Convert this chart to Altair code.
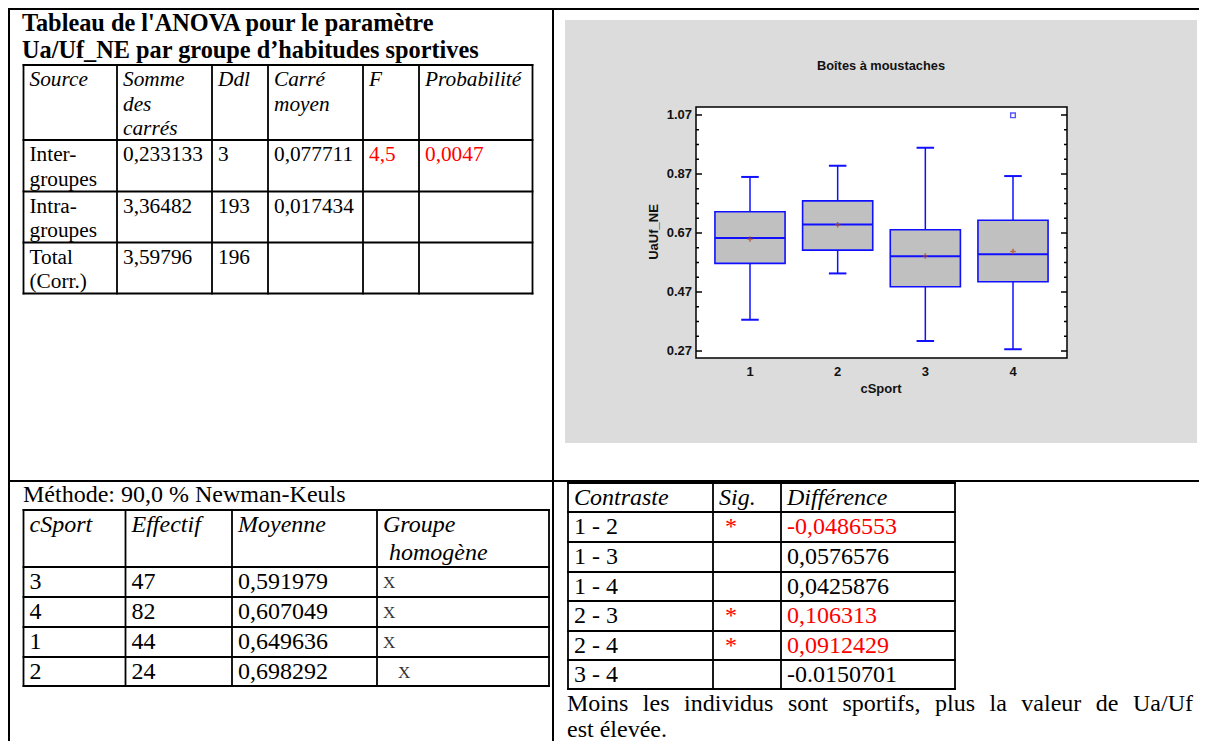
import altair as alt
import pandas as pd

# ---------------- data ----------------
title_lines = ["Tableau de l'ANOVA pour le paramètre",
               "Ua/Uf_NE par groupe d\u2019habitudes sportives"]

anova_header = ["Source", "Somme\ndes\ncarrés", "Ddl", "Carré\nmoyen", "F", "Probabilité"]
anova_source = ["Inter-\ngroupes", "Intra-\ngroupes", "Total\n(Corr.)"]
anova_ss = ["0,233133", "3,36482", "3,59796"]
anova_ddl = ["3", "193", "196"]
anova_ms = ["0,077711", "0,017434", ""]
anova_f = ["4,5", "", ""]
anova_p = ["0,0047", "", ""]
anova_red_cols = [4, 5]

method_label = "Méthode: 90,0 % Newman-Keuls"
nk_header = ["cSport", "Effectif", "Moyenne", "Groupe"]
nk_header2 = "homogène"
nk_group = ["3", "4", "1", "2"]
nk_count = ["47", "82", "44", "24"]
nk_mean = ["0,591979", "0,607049", "0,649636", "0,698292"]
nk_homog_slot = [0, 0, 0, 1]

contrast_header = ["Contraste", "Sig.", "Différence"]
contrast_pair = ["1 - 2", "1 - 3", "1 - 4", "2 - 3", "2 - 4", "3 - 4"]
contrast_sig = [True, False, False, True, True, False]
contrast_diff = ["-0,0486553", "0,0576576", "0,0425876", "0,106313", "0,0912429", "-0.0150701"]

conclusion = ["Moins les individus sont sportifs, plus la valeur de Ua/Uf", "est élevée."]

box_title = "Boîtes à moustaches"
box_xlabel = "cSport"
box_ylabel = "UaUf_NE"
box_groups = [1, 2, 3, 4]
box_low = [0.376, 0.533, 0.304, 0.276]
box_q1 = [0.567, 0.612, 0.488, 0.505]
box_median = [0.653, 0.699, 0.591, 0.598]
box_q3 = [0.742, 0.779, 0.681, 0.713]
box_high = [0.860, 0.898, 0.959, 0.863]
box_mean = [0.649636, 0.698292, 0.591979, 0.607049]
outlier_group = [4]
outlier_value = [1.069]
y_ticks = [0.27, 0.47, 0.67, 0.87, 1.07]
y_tick_labels = ["0.27", "0.47", "0.67", "0.87", "1.07"]
y_minor = [0.32, 0.37, 0.42, 0.52, 0.57, 0.62, 0.72, 0.77, 0.82, 0.92, 0.97, 1.02]

# ---------------- layout (page pixels) ----------------
W, H, OFF = 1191, 733, 8
SERIF = "Liberation Serif, Times New Roman, serif"
SANS = "Liberation Sans, Arial, sans-serif"
RED = "#ff0000"
BLUE = "#1010ff"

anova_cols = [23.5, 117, 212, 268, 363, 419, 532.5]
anova_rows = [65, 140, 191.5, 242.5, 293.5]
nk_cols = [23.5, 125.5, 232, 377, 549]
nk_rows = [510, 567, 597, 627, 657, 686]
ct_cols = [568, 713, 781, 955]
ct_rows = [483, 512, 542, 572, 601, 631, 660, 689]
PARA_LEFT, PARA_RIGHT = 567, 1193
PARA_BASE = [711, 737]

# Times New Roman advance widths (1/1000 em) for justification of the paragraph
TNR = {"M": 889, "o": 500, "i": 278, "n": 500, "s": 389, "l": 278, "e": 444, "d": 500,
       "v": 500, "u": 500, "t": 278, "p": 500, "r": 333, "f": 333, ",": 250, "a": 444,
       "U": 722, "/": 278, " ": 250}

BX = alt.Scale(domain=[0.384, 4.616], range=[688, 1059], nice=False, zero=False)
BY = alt.Scale(domain=[0.2463, 1.0971], range=[350, 99], nice=False, zero=False)


def PX(f):
    return alt.X(f, type="quantitative", axis=None,
                 scale=alt.Scale(domain=[OFF, OFF + W], range=[0, W], nice=False, zero=False))


def PY(f):
    return alt.Y(f, type="quantitative", axis=None,
                 scale=alt.Scale(domain=[OFF, OFF + H], range=[0, H], nice=False, zero=False))


def grid(cols, rows, w):
    s = [dict(x=c, x2=c, y=rows[0], y2=rows[-1], w=w) for c in cols]
    s += [dict(x=cols[0], x2=cols[-1], y=r, y2=r, w=w) for r in rows]
    return s


def text_layer(rows, size, font=SERIF, italic=False, bold=False, align="left", lh=None):
    mk = dict(align=align, baseline="alphabetic", font=font, fontSize=size, lineBreak="\n")
    if italic:
        mk["fontStyle"] = "italic"
    if bold:
        mk["fontWeight"] = "bold"
    if lh:
        mk["lineHeight"] = lh
    return alt.Chart(pd.DataFrame(rows)).mark_text(**mk).encode(
        x=PX("x"), y=PY("y"), text="t:N", color=alt.Color("c:N", scale=None))


layers = []

# gray panel behind the box plot
layers.append(alt.Chart(pd.DataFrame([dict(x=565, x2=1197, y=20, y2=443)])).mark_rect(
    fill="#dcdcdc").encode(x=PX("x"), x2="x2", y=PY("y"), y2="y2"))

# page frame lines and table grids
segs = [dict(x=9, x2=1199, y=9, y2=9, w=2), dict(x=9, x2=9, y=9, y2=741, w=2),
        dict(x=553, x2=553, y=9, y2=741, w=2), dict(x=9, x2=1199, y=481, y2=481, w=2)]
segs += grid(anova_cols, anova_rows, 1.8)
segs += grid(nk_cols, nk_rows, 1.8)
segs += grid(ct_cols, ct_rows, 1.8)
layers.append(alt.Chart(pd.DataFrame(segs)).mark_rule(color="black", strokeCap="square").encode(
    x=PX("x"), x2="x2", y=PY("y"), y2="y2", strokeWidth=alt.StrokeWidth("w:Q", scale=None)))

# title of ANOVA table
layers.append(text_layer([dict(x=22, y=31, t=title_lines[0], c="black"),
                          dict(x=22, y=58, t=title_lines[1], c="black")], 24.3, bold=True))

# ANOVA table
hdr = [dict(x=anova_cols[i] + 6, y=anova_rows[0] + 21, t=h, c="black") for i, h in enumerate(anova_header)]
layers.append(text_layer(hdr, 21.3, italic=True, lh=24.5))
cols_data = [anova_source, anova_ss, anova_ddl, anova_ms, anova_f, anova_p]
body = []
for ci, col in enumerate(cols_data):
    for ri, v in enumerate(col):
        if v:
            body.append(dict(x=anova_cols[ci] + 6, y=anova_rows[ri + 1] + 21, t=v,
                             c=RED if ci in anova_red_cols else "black"))
layers.append(text_layer(body, 21.3, lh=24.5))

# Newman-Keuls table
layers.append(text_layer([dict(x=23, y=502, t=method_label, c="black")], 24))
hdr = [dict(x=nk_cols[i] + 6, y=nk_rows[0] + 22, t=h, c="black") for i, h in enumerate(nk_header)]
hdr.append(dict(x=nk_cols[3] + 12, y=nk_rows[0] + 50, t=nk_header2, c="black"))
layers.append(text_layer(hdr, 24, italic=True))
body = []
for ci, col in enumerate([nk_group, nk_count, nk_mean]):
    for ri, v in enumerate(col):
        body.append(dict(x=nk_cols[ci] + 6, y=nk_rows[ri + 1] + 22, t=v, c="black"))
layers.append(text_layer(body, 24))
xs = [dict(x=nk_cols[3] + 6 + 15 * s, y=nk_rows[ri + 1] + 21, t="X", c="#333333")
      for ri, s in enumerate(nk_homog_slot)]
layers.append(text_layer(xs, 17))

# contrasts table
hdr = [dict(x=ct_cols[i] + 6, y=ct_rows[0] + 22, t=h, c="black") for i, h in enumerate(contrast_header)]
layers.append(text_layer(hdr, 24, italic=True))
body = []
for ri in range(len(contrast_pair)):
    yb = ct_rows[ri + 1] + 22
    body.append(dict(x=ct_cols[0] + 6, y=yb, t=contrast_pair[ri], c="black"))
    body.append(dict(x=ct_cols[2] + 6, y=yb, t=contrast_diff[ri], c=RED if contrast_sig[ri] else "black"))
layers.append(text_layer(body, 24))
stars = [dict(x=(ct_cols[1] + ct_cols[2]) / 2 - 16, y=ct_rows[ri + 1] + 22, t="*", c=RED)
         for ri in range(len(contrast_pair)) if contrast_sig[ri]]
layers.append(text_layer(stars, 24, align="center"))

# conclusion paragraph (first line justified, second line flush left)
FS = 24
words = conclusion[0].split(" ")
wid = [sum(TNR.get(ch, 500) for ch in w) / 1000 * FS for w in words]
gap = (PARA_RIGHT - PARA_LEFT - sum(wid)) / (len(words) - 1)
para = []
xcur = PARA_LEFT
for w, ww in zip(words, wid):
    para.append(dict(x=xcur, y=PARA_BASE[0], t=w, c="black"))
    xcur += ww + gap
para.append(dict(x=PARA_LEFT, y=PARA_BASE[1], t=conclusion[1], c="black"))
layers.append(text_layer(para, FS))

# ---------------- box plot ----------------
HALF, CAP = 0.4, 0.1
bdf = pd.DataFrame(dict(g=box_groups, lo=box_low, q1=box_q1, med=box_median, q3=box_q3,
                        hi=box_high, mean=box_mean))
bdf["gl"] = bdf["g"] - HALF
bdf["gr"] = bdf["g"] + HALF
bdf["cl"] = bdf["g"] - CAP
bdf["cr"] = bdf["g"] + CAP


def BXf(f):
    return alt.X(f, type="quantitative", scale=BX, axis=None)


def BYf(f):
    return alt.Y(f, type="quantitative", scale=BY, axis=None)


frame = pd.DataFrame([dict(x=BX.domain[0], x2=BX.domain[1], y=BY.domain[0], y2=BY.domain[1])])
layers.append(alt.Chart(frame).mark_rect(fill="white", stroke="black", strokeWidth=1.5).encode(
    x=BXf("x"), x2="x2", y=BYf("y"), y2="y2"))

# ticks (inward, both sides)
tk = pd.DataFrame(dict(v=y_ticks, lab=y_tick_labels))
mn = pd.DataFrame(dict(v=y_minor))
for x0, x1 in [(688, 694), (1053, 1059)]:
    layers.append(alt.Chart(tk).mark_rule(color="black", strokeWidth=1.5).encode(
        y=BYf("v"), x=alt.value(x0), x2=alt.value(x1)))
for x0, x1 in [(688, 691), (1056, 1059)]:
    layers.append(alt.Chart(mn).mark_rule(color="black", strokeWidth=1.5).encode(
        y=BYf("v"), x=alt.value(x0), x2=alt.value(x1)))
AX = dict(font=SANS, fontWeight="bold", color="#111111")
layers.append(alt.Chart(tk).mark_text(align="right", baseline="middle", fontSize=13, **AX).encode(
    y=BYf("v"), x=alt.value(684), text="lab:N"))
layers.append(alt.Chart(pd.DataFrame(dict(g=box_groups, lab=[str(g) for g in box_groups]))).mark_text(
    align="center", baseline="middle", fontSize=13, **AX).encode(
    x=BXf("g"), y=alt.value(364), text="lab:N"))
layers.append(alt.Chart(pd.DataFrame([dict(t=box_title)])).mark_text(
    align="center", baseline="middle", fontSize=12.8, **AX).encode(
    x=alt.value(873), y=alt.value(58), text="t:N"))
layers.append(alt.Chart(pd.DataFrame([dict(t=box_xlabel)])).mark_text(
    align="center", baseline="middle", fontSize=13, **AX).encode(
    x=alt.value(873), y=alt.value(381), text="t:N"))
layers.append(alt.Chart(pd.DataFrame([dict(t=box_ylabel)])).mark_text(
    align="center", baseline="middle", fontSize=13, angle=270, **AX).encode(
    x=alt.value(646), y=alt.value(224), text="t:N"))

# whiskers
layers.append(alt.Chart(bdf).mark_rule(color=BLUE, strokeWidth=1.5).encode(
    x=BXf("g"), y=BYf("lo"), y2="q1"))
layers.append(alt.Chart(bdf).mark_rule(color=BLUE, strokeWidth=1.5).encode(
    x=BXf("g"), y=BYf("q3"), y2="hi"))
for f in ["lo", "hi"]:
    layers.append(alt.Chart(bdf).mark_rule(color=BLUE, strokeWidth=2).encode(
        x=BXf("cl"), x2="cr", y=BYf(f)))
# boxes
layers.append(alt.Chart(bdf).mark_rect(fill="#c0c0c0", stroke=BLUE, strokeWidth=1.6).encode(
    x=BXf("gl"), x2="gr", y=BYf("q1"), y2="q3"))
layers.append(alt.Chart(bdf).mark_rule(color=BLUE, strokeWidth=2).encode(
    x=BXf("gl"), x2="gr", y=BYf("med")))
# means
layers.append(alt.Chart(bdf).mark_point(shape="M-1,0L1,0M0,-1L0,1", size=30, strokeWidth=1.5,
                                        color="#b0401a", filled=False).encode(x=BXf("g"), y=BYf("mean")))
# outlier
layers.append(alt.Chart(pd.DataFrame(dict(g=outlier_group, v=outlier_value))).mark_point(
    shape="square", size=22, strokeWidth=1.4, color=BLUE, filled=False).encode(x=BXf("g"), y=BYf("v")))

chart = alt.layer(*layers).resolve_scale(x="independent", y="independent").properties(
    width=W, height=H, padding=0, autosize=alt.AutoSizeParams(type="none")
).configure_view(stroke=None)

chart.save("out.html", embed_options={"renderer": "svg", "actions": False})
